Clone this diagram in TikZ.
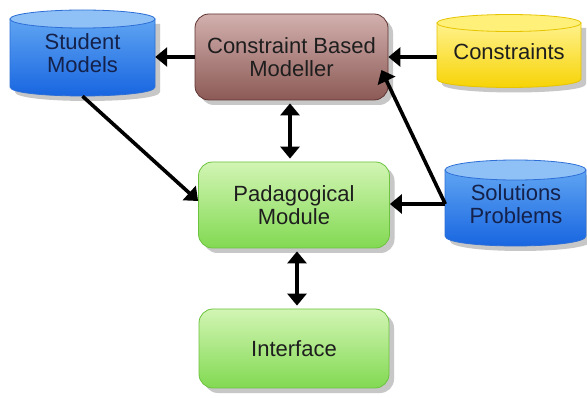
\documentclass[tikz,border=0pt]{standalone}
\usepackage{fontspec}
\setmainfont{Liberation Sans}
\usetikzlibrary{arrows.meta,shadows,calc}
\definecolor{bluetop}{HTML}{8FC1F7}
\definecolor{bluebodyA}{HTML}{5FA4F2}
\definecolor{bluebodyB}{HTML}{1563E0}
\definecolor{blueedge}{HTML}{2D6FD6}
\definecolor{bluetext}{HTML}{14214A}
\definecolor{yeltop}{HTML}{FFF07A}
\definecolor{yelbodyA}{HTML}{FFF28C}
\definecolor{yelbodyB}{HTML}{F6D200}
\definecolor{yeledge}{HTML}{E6C400}
\definecolor{brownA}{HTML}{D2B0AD}
\definecolor{brownB}{HTML}{8C5A56}
\definecolor{brownedge}{HTML}{5E3431}
\definecolor{greenA}{HTML}{D2F5B4}
\definecolor{greenB}{HTML}{82D952}
\definecolor{greenedge}{HTML}{6CC33E}
\definecolor{txt}{HTML}{1E1E1E}
\newcommand\mycyl[9]{%
  \fill[black!40, opacity=.55] (#1+5,#3+5) -- (#1+5,#4+5) .. controls (#1+5,#4+5+1.33*#5) and (#2+5,#4+5+1.33*#5) .. (#2+5,#4+5) -- (#2+5,#3+5) -- cycle;
  \path[draw=#9, top color=#7, bottom color=#8, line width=.8pt] (#1,#3) -- (#1,#4) .. controls (#1,#4+1.33*#5) and (#2,#4+1.33*#5) .. (#2,#4) -- (#2,#3) -- cycle;
  \draw[draw=#9, fill=#6, line width=.8pt] ({(#1+#2)/2},#3) ellipse [x radius={(#2-#1)/2}, y radius=#5];
}
\begin{document}
\begin{tikzpicture}[x=1pt,y=-1pt,
  lbl/.style={font=\fontsize{22}{23}\selectfont, align=center, inner sep=0pt},
  cyltext/.style={lbl, draw=none},
  box/.style={lbl, rounded corners=14pt, line width=.8pt, text=txt,
    drop shadow={shadow xshift=5pt, shadow yshift=-5pt, fill=black!40, opacity=.55}},
  brownbox/.style={box, draw=brownedge, top color=brownA, bottom color=brownB},
  greenbox/.style={box, draw=greenedge, top color=greenA, bottom color=greenB},
  tip/.tip={Triangle[length=12pt,width=19pt]},
  arr/.style={line width=3.6pt, -tip},
  darr/.style={line width=3.6pt, tip-tip}
]
\useasboundingbox (0,0) rectangle (587,398);
\fill[white] (0,0) rectangle (587,398);

% cylinders
\mycyl{10}{155}{19}{87}{9}{bluetop}{bluebodyA}{bluebodyB}{blueedge}
\mycyl{437}{581}{23}{79}{8.5}{yeltop}{yelbodyA}{yelbodyB}{yeledge}
\mycyl{445}{586}{170}{236}{10}{bluetop}{bluebodyA}{bluebodyB}{blueedge}

\node[cyltext, text=bluetext, minimum width=145pt, minimum height=86pt] (sm) at (82.5,53) {Student\\Models};
\node[cyltext, text=txt, minimum width=144pt, minimum height=72pt] (cons) at (509,52) {Constraints};
\node[cyltext, text=bluetext, minimum width=141pt, minimum height=85pt] (sol) at (516,204) {Solutions\\Problems};

% boxes
\node[brownbox, minimum width=193pt, minimum height=86pt] (cbm) at (291.5,57) {Constraint Based\\Modeller};
\node[greenbox, minimum width=191pt, minimum height=86pt] (pm) at (294,205) {Padagogical\\Module};
\node[greenbox, minimum width=190pt, minimum height=79pt] (ifc) at (294,348.5) {Interface};

% connectors
\draw[arr] (cbm.west) -- (cbm.west -| sm.east);
\draw[arr] (cons.west |- cbm.east) -- (cbm.east);
\draw[arr] (sol.west) -- (sol.west -| pm.east);
\draw[arr] (sol.west) -- ($(cbm.east)+(-7,13)$);
\draw[arr] (sm.south) -- ($(pm.west)+(0,-4)$);
\draw[darr, shorten <=3pt, shorten >=3pt] ([xshift=-1.5pt]cbm.south) -- ([xshift=-1.5pt]cbm.south |- pm.north);
\draw[darr, shorten <=3pt, shorten >=3pt] ([xshift=3pt]pm.south) -- ([xshift=3pt]pm.south |- ifc.north);
\end{tikzpicture}
\end{document}
